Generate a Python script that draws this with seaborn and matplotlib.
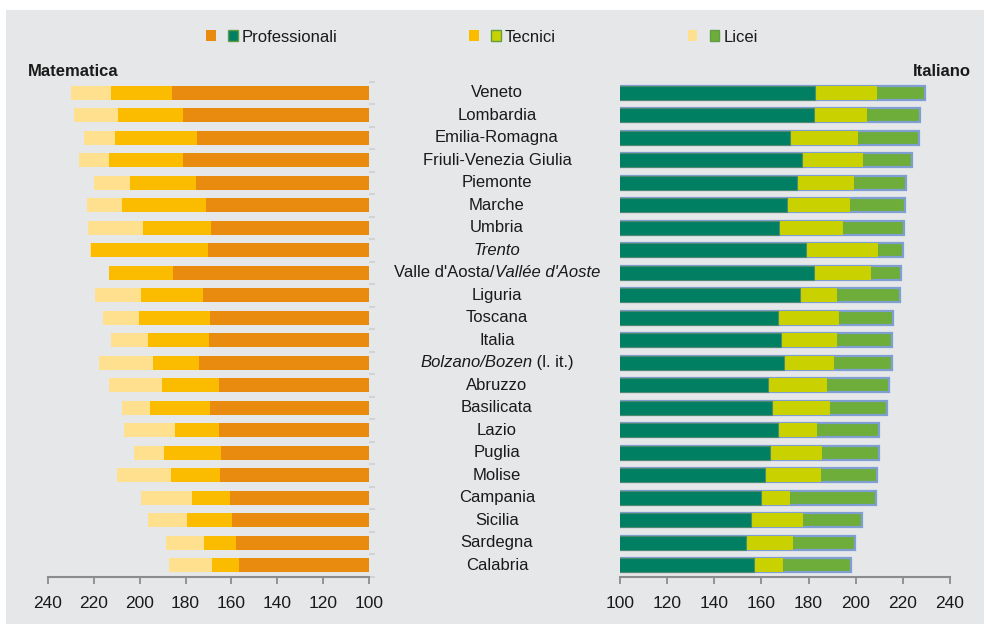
import matplotlib
matplotlib.use('Agg')
import matplotlib.pyplot as plt
import seaborn as sns
import numpy as np
from matplotlib.patches import Rectangle, Patch
from matplotlib.legend_handler import HandlerTuple
from matplotlib import transforms

# data
regions = ["Veneto", "Lombardia", "Emilia-Romagna", "Friuli-Venezia Giulia",
           "Piemonte", "Marche", "Umbria", "Trento",
           "Valle d'Aosta/Vallée d'Aoste", "Liguria", "Toscana", "Italia",
           "Bolzano/Bozen (l. it.)", "Abruzzo", "Basilicata", "Lazio",
           "Puglia", "Molise", "Campania", "Sicilia", "Sardegna", "Calabria"]

mat_prof = [185.9, 181.0, 175.0, 181.1, 175.6, 171.1, 168.9, 170.3, 185.6, 172.3, 169.3,
            169.8, 174.1, 165.4, 169.2, 165.5, 164.4, 165.0, 160.6, 159.7, 157.9, 156.7]
mat_tec = [212.5, 209.3, 210.8, 213.5, 204.2, 207.9, 198.4, 221.3, 213.4, 199.4, 200.2,
           196.4, 194.2, 190.3, 195.5, 184.7, 189.4, 186.4, 177.3, 179.2, 172.0, 168.3]
mat_lic = [230.1, 228.6, 224.3, 226.3, 219.9, 223.1, 222.5, 221.7, 213.0, 219.4, 216.1,
           212.4, 217.9, 213.3, 207.7, 206.7, 202.5, 209.9, 199.3, 196.2, 188.4, 187.1]

ita_prof = [182.9, 182.5, 172.1, 177.3, 175.0, 170.8, 167.4, 178.8, 182.3, 176.4, 167.1,
            168.3, 169.4, 162.6, 164.3, 167.0, 163.5, 161.4, 159.7, 155.4, 153.6, 157.0]
ita_tec = [209.1, 204.8, 201.0, 203.1, 199.5, 197.6, 194.8, 209.5, 206.7, 192.2, 192.8,
           192.1, 190.7, 187.8, 189.1, 183.6, 185.9, 185.3, 172.2, 177.8, 173.3, 169.3]
ita_lic = [229.5, 227.4, 226.8, 224.1, 221.5, 221.1, 220.6, 220.3, 219.4, 218.9, 215.8,
           215.5, 215.3, 214.1, 213.5, 210.1, 209.8, 209.2, 208.5, 202.7, 199.9, 198.2]

series = ["Professionali", "Tecnici", "Licei"]

# labels with italic parts
label_parts = {
    "Trento": [("Trento", "italic")],
    "Valle d'Aosta/Vallée d'Aoste": [("Valle d'Aosta/", "normal"), ("Vallée d'Aoste", "italic")],
    "Bolzano/Bozen (l. it.)": [("Bolzano/Bozen", "italic"), (" (l. it.)", "normal")],
}

plt.rcParams['font.family'] = ['Liberation Sans', 'DejaVu Sans']

bg = '#e6e7e9'
m_cols = ['#e98b0f', '#fbbc00', '#fee08f']
i_cols = ['#007f62', '#c9d200', '#6ead39']
txt = '#1a1a1a'
axis_gray = '#8c8c8c'

fig = plt.figure(figsize=(9.84, 6.24), dpi=100, facecolor='white')
fig.patches.append(Rectangle((6 / 984, 0), 1, 1 - 10 / 624, transform=fig.transFigure,
                             facecolor=bg, edgecolor='none', zorder=-10))

ax_m = fig.add_axes([48 / 984, 1 - 576.7 / 624, 321 / 984, 495 / 624])
ax_i = fig.add_axes([620.3 / 984, 1 - 576.7 / 624, 329.4 / 984, 495 / 624])

# Matematica: longest series behind, shortest on top
for vals, col in [(mat_lic, m_cols[2]), (mat_tec, m_cols[1]), (mat_prof, m_cols[0])]:
    sns.barplot(x=vals, y=regions, orient='h', color=col, saturation=1,
                width=0.62, linewidth=0, ax=ax_m)

sns.barplot(x=ita_lic, y=regions, orient='h', color=i_cols[2], saturation=1,
            width=0.62, edgecolor='#7f9ed2', linewidth=1.6, ax=ax_i)
sns.barplot(x=ita_tec, y=regions, orient='h', color=i_cols[1], saturation=1,
            width=0.62, linewidth=0, ax=ax_i)
sns.barplot(x=ita_prof, y=regions, orient='h', color=i_cols[0], saturation=1,
            width=0.62, edgecolor='#4f8a72', linewidth=0.8, ax=ax_i)

n = len(regions)
for ax in (ax_m, ax_i):
    ax.set_facecolor(bg)
    ax.set_ylim(n - 0.5, -0.5)
    ax.set_xticks(range(100, 241, 20))
    ax.set_yticks([])
    ax.set_xlabel('')
    ax.set_ylabel('')
    for s in ('top', 'left', 'right'):
        ax.spines[s].set_visible(False)
    ax.spines['bottom'].set_color(axis_gray)
    ax.spines['bottom'].set_linewidth(1.5)
    ax.tick_params(axis='x', length=5, width=1.3, color=axis_gray,
                   labelsize=12.5, labelcolor=txt, pad=9)

ax_m.set_xlim(240, 100)
ax_i.set_xlim(100, 240)

# small grey marks between rows on the Matematica side
ax_m.set_yticks(np.arange(-0.5, n, 1), minor=True)
ax_m.tick_params(axis='y', which='minor', left=False, right=True, length=4,
                 width=1.5, color='#d2d3d5', labelright=False)

# panel titles
fig.text(28 / 984, 1 - 72 / 624, 'Matematica', fontsize=12, fontweight='bold',
         color=txt, va='center', ha='left')
fig.text(971 / 984, 1 - 72 / 624, 'Italiano', fontsize=12, fontweight='bold',
         color=txt, va='center', ha='right')

# centred region names (some partly italic)
fig.canvas.draw()
renderer = fig.canvas.get_renderer()
trans = transforms.blended_transform_factory(fig.transFigure, ax_i.transData)
center_px = 497
for i, name in enumerate(regions):
    parts = label_parts.get(name, [(name, 'normal')])
    texts = [fig.text(0, i, p, style=st, fontsize=12, color=txt, va='center',
                      ha='left', transform=trans) for p, st in parts]
    widths = [t.get_window_extent(renderer).width for t in texts]
    x = center_px - sum(widths) / 2
    for t, w in zip(texts, widths):
        t.set_x(x / 984)
        x += w

# legend: one pair of squares per school type
handles = [(Patch(facecolor=m_cols[k]), Patch(facecolor=i_cols[k], edgecolor='#5f9e45', linewidth=1))
           for k in range(3)]
fig.legend(handles, series, handler_map={tuple: HandlerTuple(ndivide=None, pad=0.75)},
           loc='center left', bbox_to_anchor=(206 / 984, 1 - 37 / 624), ncol=3,
           frameon=False, fontsize=12, labelcolor=txt, handlelength=1.9,
           handleheight=0.65, handletextpad=0.25, columnspacing=7.9,
           borderpad=0, borderaxespad=0)

fig.savefig('out.png', dpi=100, facecolor='white')
